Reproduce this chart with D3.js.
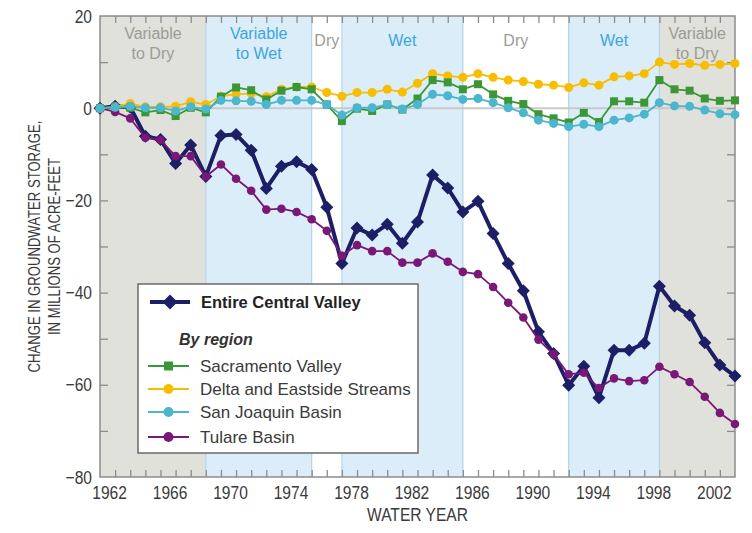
<!DOCTYPE html>
<html>
<head>
<meta charset="utf-8">
<script src="https://cdn.jsdelivr.net/npm/d3@7"></script>
<style>
  html, body { margin: 0; padding: 0; background: #fff; }
  svg { display: block; }
  text { font-family: "Liberation Sans", Arial, sans-serif; }
</style>
</head>
<body>
<svg id="chart" width="752" height="533"></svg>
<script>
// ---------------- DATA ----------------
const years = [1961,1962,1963,1964,1965,1966,1967,1968,1969,1970,1971,1972,1973,1974,1975,1976,1977,1978,1979,1980,1981,1982,1983,1984,1985,1986,1987,1988,1989,1990,1991,1992,1993,1994,1995,1996,1997,1998,1999,2000,2001,2002,2003];

const entireCentralValley = [0,0.4,0.2,-6.1,-6.8,-12.0,-8.0,-14.8,-5.9,-5.7,-9.1,-17.4,-12.6,-11.6,-13.3,-21.5,-33.7,-26.0,-27.5,-25.2,-29.3,-24.7,-14.5,-17.3,-22.5,-20.2,-27.2,-33.7,-39.6,-48.5,-53.2,-60.1,-56.0,-62.8,-52.5,-52.5,-51.0,-38.6,-42.9,-44.9,-50.9,-55.7,-58.1];
const sacramentoValley = [0,0.3,0.1,-0.9,-0.4,-1.7,0.1,-0.9,2.5,4.5,3.9,1.9,3.8,4.6,4.1,0.8,-2.8,-0.1,-0.6,0.8,-0.3,2.1,6.1,5.6,4.1,5.2,3.0,1.6,0.9,-1.3,-2.2,-3.1,-1.0,-3.0,1.5,1.5,1.2,6.1,4.1,3.8,2.1,1.6,1.7];
const deltaEastside = [0,0.3,1.0,0.3,0.3,0.4,1.4,0.8,2.6,3.0,3.2,2.5,4.1,4.6,4.6,3.4,2.6,3.4,3.4,4.1,3.5,5.4,7.5,7.0,6.7,7.5,6.7,6.1,5.8,5.2,5.0,4.5,5.5,5.0,6.8,7.0,7.5,10.0,9.5,9.7,9.3,9.5,9.7];
const sanJoaquin = [0,0.2,0.4,0.1,0.1,-0.6,0.3,-0.2,1.7,1.6,1.5,0.8,1.7,1.7,1.7,0.8,-1.5,0.1,0.1,0.8,-0.2,0.8,3.0,2.7,1.9,2.1,1.2,0.1,-1.0,-2.6,-3.3,-4.0,-3.5,-4.0,-2.6,-2.1,-1.3,1.2,0.5,0.4,-0.4,-1.2,-1.4];
const tulareBasin = [0,-0.8,-2.2,-6.4,-6.9,-10.4,-10.4,-14.8,-12.2,-15.3,-17.9,-22.0,-21.8,-22.5,-24.1,-26.6,-32.0,-29.7,-31.0,-31.0,-33.5,-33.5,-31.5,-33.3,-35.5,-36.0,-38.8,-42.2,-45.4,-50.2,-53.4,-57.7,-57.4,-60.7,-58.6,-59.2,-59.0,-56.1,-57.7,-59.4,-62.6,-66.1,-68.5];

// climate periods (band edges in year units, labels, type)
const periodStart = [1961,1968,1975,1977,1985,1992,1998];
const periodEnd   = [1968,1975,1977,1985,1992,1998,2003];
const periodLabel = [["Variable","to Dry"],["Variable","to Wet"],["Dry"],["Wet"],["Dry"],["Wet"],["Variable","to Dry"]];
const periodType  = ["gray","blue","white","blue","white","blue","gray"];

const xTickLabels = [1962,1966,1970,1974,1978,1982,1986,1990,1994,1998,2002];
const yTickLabels = [20,0,-20,-40,-60,-80];
const yMinorTicks = [10,-10,-30,-50,-70];

const seriesNames = ["Entire Central Valley","Sacramento Valley","Delta and Eastside Streams","San Joaquin Basin","Tulare Basin"];

// ---------------- LAYOUT ----------------
const svg = d3.select("#chart");
const L = 100, R = 735, T = 16, B = 477;
const NARROW = 0.82;

const x = d3.scaleLinear().domain([1961, 2003]).range([L, R]);
const y = d3.scaleLinear().domain([-80, 20]).range([B, T]);
const xLab = x.copy().domain(x.domain().map(d => d + 0.4));

const bandFill = {gray: "#dfe1da", blue: "#dcedfa", white: "#ffffff"};
const bandText = {gray: "#9d9c94", blue: "#3aa6dc", white: "#9d9c94"};
const frameColor = "#8c8c8c";

// horizontally condense a text selection about its own x anchor
function narrow(sel, k) {
  sel.each(function() {
    const t = d3.select(this);
    const tx = +t.attr("x") || 0;
    const prev = t.attr("transform") || "";
    t.attr("transform", `${prev} translate(${tx},0) scale(${k},1) translate(${-tx},0)`);
  });
}

// bands
const periods = periodStart.map((s, i) => ({s, e: periodEnd[i], label: periodLabel[i], type: periodType[i]}));
svg.append("g").selectAll("rect").data(periods).join("rect")
  .attr("x", d => x(d.s)).attr("y", T)
  .attr("width", d => x(d.e) - x(d.s)).attr("height", B - T)
  .attr("fill", d => bandFill[d.type]);

// band edge lines
svg.append("g").selectAll("line").data(periodStart.slice(1)).join("line")
  .attr("x1", d => x(d)).attr("x2", d => x(d)).attr("y1", T).attr("y2", B)
  .attr("stroke", "#b3d4ea").attr("stroke-width", 1.2);

// band labels
const bl = svg.append("g").selectAll("text").data(periods).join("text")
  .attr("x", d => (x(d.s) + x(d.e)) / 2)
  .attr("text-anchor", "middle")
  .attr("font-size", 16)
  .attr("fill", d => bandText[d.type]);
bl.each(function(d) {
  const t = d3.select(this);
  const cx = (x(d.s) + x(d.e)) / 2;
  if (d.label.length === 1) {
    t.append("tspan").attr("x", cx).attr("y", 45.5).text(d.label[0]);
  } else {
    t.append("tspan").attr("x", cx).attr("y", 38.5).text(d.label[0]);
    t.append("tspan").attr("x", cx).attr("y", 58.5).text(d.label[1]);
  }
});

// zero line
svg.append("line").attr("x1", L).attr("x2", R).attr("y1", y(0)).attr("y2", y(0))
  .attr("stroke", "#c9c9c9").attr("stroke-width", 2);

// ---------------- AXES ----------------
function styleAxis(g) {
  g.select(".domain").remove();
  g.selectAll(".tick line").attr("stroke", frameColor).attr("stroke-width", 1.3);
  g.selectAll("text").attr("fill", "#3a3a3a").attr("font-size", 19);
}
const innerYears = years.slice(1, -1);
svg.append("g").attr("transform", `translate(0,${B})`)
  .call(d3.axisBottom(x).tickValues(innerYears).tickSize(-7).tickFormat(""))
  .call(styleAxis);
svg.append("g").attr("transform", `translate(0,${T})`)
  .call(d3.axisTop(x).tickValues(innerYears).tickSize(-7).tickFormat(""))
  .call(styleAxis);
svg.append("g").attr("transform", `translate(0,${B})`)
  .call(d3.axisBottom(xLab).tickValues(xTickLabels).tickSize(0).tickPadding(5).tickFormat(d3.format("d")))
  .call(styleAxis)
  .selectAll("text").attr("dy", "0.9em").call(narrow, NARROW);
const yAll = yTickLabels.concat(yMinorTicks).filter(v => v > -80 && v < 20);
svg.append("g").attr("transform", `translate(${L},0)`)
  .call(d3.axisRight(y).tickValues(yAll).tickSize(8).tickFormat(""))
  .call(styleAxis);
svg.append("g").attr("transform", `translate(${L},0)`)
  .call(d3.axisLeft(y).tickValues(yTickLabels).tickSize(0).tickPadding(8)
    .tickFormat(d => d < 0 ? "\u2212" + Math.abs(d) : String(d)))
  .call(styleAxis)
  .selectAll("text").call(narrow, NARROW);
svg.append("g").attr("transform", `translate(${R},0)`)
  .call(d3.axisLeft(y).tickValues(yAll).tickSize(8).tickFormat(""))
  .call(styleAxis);

// frame
svg.append("rect").attr("x", L).attr("y", T).attr("width", R - L).attr("height", B - T)
  .attr("fill", "none").attr("stroke", frameColor).attr("stroke-width", 1.5);

// axis titles
svg.append("text").attr("x", (L + R) / 2).attr("y", 521).attr("text-anchor", "middle")
  .attr("font-size", 19).attr("fill", "#3a3a3a").text("WATER YEAR")
  .call(narrow, NARROW);
const yt = svg.append("text").attr("transform", `translate(0,${(T + B) / 2}) rotate(-90)`)
  .attr("text-anchor", "middle").attr("font-size", 16).attr("fill", "#3a3a3a");
yt.append("tspan").attr("x", 0).attr("y", 40).text("CHANGE IN GROUNDWATER STORAGE,");
yt.append("tspan").attr("x", 0).attr("y", 60).text("IN MILLIONS OF ACRE-FEET");
yt.call(narrow, NARROW);

// ---------------- SERIES ----------------
const diamond = r => `M0,${-r}L${r},0L0,${r}L${-r},0Z`;
const circle = r => `M${r},0A${r},${r} 0 1,1 ${-r},0A${r},${r} 0 1,1 ${r},0Z`;
const square = r => `M${-r},${-r}H${r}V${r}H${-r}Z`;

const series = [
  {name: seriesNames[0], values: entireCentralValley, color: "#1c1f66", width: 4, shape: diamond, size: 6.5, legendSize: 7.5},
  {name: seriesNames[4], values: tulareBasin, color: "#7a1877", width: 1.8, shape: circle, size: 4.3, legendSize: 5},
  {name: seriesNames[2], values: deltaEastside, color: "#f7bd00", width: 1.8, shape: circle, size: 4.5, legendSize: 5},
  {name: seriesNames[1], values: sacramentoValley, color: "#3b9735", width: 1.8, shape: square, size: 4, legendSize: 4.5},
  {name: seriesNames[3], values: sanJoaquin, color: "#4bb6cc", width: 1.8, shape: circle, size: 4.5, legendSize: 5}
];

const line = d3.line().x((d, i) => x(years[i])).y(d => y(d));
series.forEach(s => {
  const g = svg.append("g");
  g.append("path").attr("d", line(s.values)).attr("fill", "none")
    .attr("stroke", s.color).attr("stroke-width", s.width).attr("stroke-linejoin", "round");
  g.selectAll("path.m").data(s.values).join("path").attr("class", "m")
    .attr("transform", (d, i) => `translate(${x(years[i])},${y(d)})`)
    .attr("d", s.shape(s.size)).attr("fill", s.color);
});

// ---------------- LEGEND ----------------
const lg = svg.append("g");
lg.append("rect").attr("x", 138).attr("y", 284).attr("width", 280).attr("height", 169)
  .attr("fill", "#fff").attr("stroke", "#6a6a6a").attr("stroke-width", 1.5);

const legendRows = [
  {s: series[0], y: 302, bold: true, x1: 150, x2: 190, tx: 201},
  {s: series[3], y: 366, x1: 148, x2: 189, tx: 200},
  {s: series[2], y: 389, x1: 148, x2: 189, tx: 200},
  {s: series[4], y: 412, x1: 148, x2: 189, tx: 200},
  {s: series[1], y: 437, x1: 148, x2: 189, tx: 200}
];
legendRows.forEach(r => {
  lg.append("line").attr("x1", r.x1).attr("x2", r.x2).attr("y1", r.y).attr("y2", r.y)
    .attr("stroke", r.s.color).attr("stroke-width", r.s.width);
  lg.append("path").attr("transform", `translate(${(r.x1 + r.x2) / 2},${r.y})`)
    .attr("d", r.s.shape(r.s.legendSize)).attr("fill", r.s.color);
  lg.append("text").attr("x", r.tx).attr("y", r.y).attr("dy", "0.35em")
    .attr("font-size", r.bold ? 16.5 : 17)
    .attr("font-weight", r.bold ? "bold" : "normal")
    .attr("fill", r.bold ? "#222" : "#3a3a3a").text(r.s.name);
});
lg.append("text").attr("x", 179).attr("y", 345).attr("font-size", 16)
  .attr("font-weight", "bold").attr("font-style", "italic").attr("fill", "#333").text("By region");
</script>
</body>
</html>
